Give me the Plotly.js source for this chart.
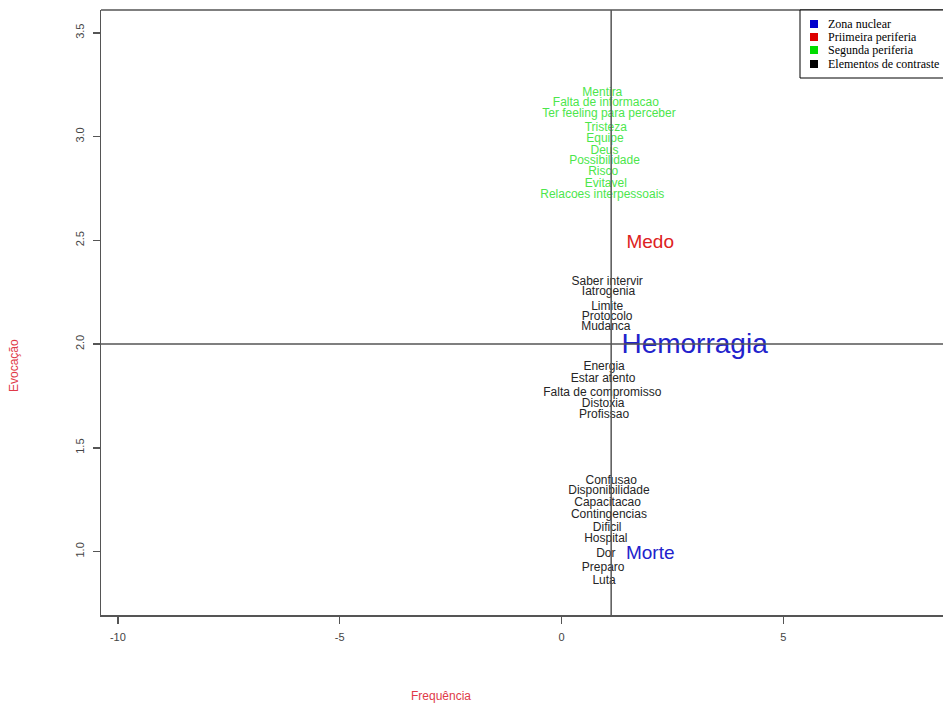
<!DOCTYPE html>
<html>
<head>
<meta charset="utf-8">
<script src="https://cdn.plot.ly/plotly-3.0.1.min.js"></script>
<style>html,body{margin:0;padding:0;background:#fff;overflow:hidden;}#chart{width:943px;height:703px;}</style>
</head>
<body>
<div id="chart"></div>
<script>
// Segunda periferia (green)
var greenLabels = ["Mentira","Falta de informacao","Ter feeling para perceber","Tristeza","Equipe","Deus","Possibilidade","Risco","Evitavel","Relacoes interpessoais"];
var greenFreq = [0.92, 1.00, 1.07, 1.00, 0.98, 0.97, 0.97, 0.94, 1.00, 0.92];
var greenEvoc = [3.21, 3.16, 3.11, 3.04, 2.99, 2.93, 2.88, 2.83, 2.77, 2.72];

// Elementos de contraste (black)
var blackLabels = ["Saber intervir","Iatrogenia","Limite","Protocolo","Mudanca","Energia","Estar atento","Falta de compromisso","Distoxia","Profissao","Confusao","Disponibilidade","Capacitacao","Contingencias","Dificil","Hospital","Dor","Preparo","Luta"];
var blackFreq = [1.03, 1.06, 1.03, 1.03, 1.00, 0.96, 0.94, 0.92, 0.94, 0.96, 1.12, 1.07, 1.04, 1.07, 1.03, 1.00, 1.00, 0.94, 0.96];
var blackEvoc = [2.30, 2.25, 2.18, 2.13, 2.08, 1.89, 1.83, 1.765, 1.71, 1.66, 1.34, 1.29, 1.235, 1.175, 1.115, 1.06, 0.99, 0.92, 0.86];

// Primeira periferia (red)
var redLabels = ["Medo"];
var redFreq = [2.0];
var redEvoc = [2.485];

// Zona nuclear (blue)
var blueLabels = ["Hemorragia", "Morte"];
var blueFreq = [3.0, 2.0];
var blueEvoc = [1.99, 0.985];
var blueSizes = [28, 19];

// Cut lines
var meanFreq = 1.12;
var meanEvoc = 2.0;

var legendNames = ["Zona nuclear", "Priimeira periferia", "Segunda periferia", "Elementos de contraste"];
var legendColors = ["#0000cc", "#dd0000", "#00dd00", "#000000"];

var xTicks = [-10, -5, 0, 5];
var yTicks = [1.0, 1.5, 2.0, 2.5, 3.0, 3.5];

var sans = "Arial, 'Liberation Sans', sans-serif";
var serif = "'Liberation Serif', 'Times New Roman', serif";

var traces = [
  {type:"scatter", mode:"text", x:greenFreq, y:greenEvoc, text:greenLabels, textposition:"middle center",
   textfont:{family:sans, size:12, color:"#4ce64c"}, showlegend:false, hoverinfo:"text"},
  {type:"scatter", mode:"text", x:blackFreq, y:blackEvoc, text:blackLabels, textposition:"middle center",
   textfont:{family:sans, size:12, color:"#252525"}, showlegend:false, hoverinfo:"text"},
  {type:"scatter", mode:"text", x:redFreq, y:redEvoc, text:redLabels, textposition:"middle center",
   textfont:{family:sans, size:19, color:"#dd2222"}, showlegend:false, hoverinfo:"text"},
  {type:"scatter", mode:"text", x:blueFreq, y:blueEvoc, text:blueLabels, textposition:"middle center",
   textfont:{family:sans, size:blueSizes, color:"#2222cc"}, showlegend:false, hoverinfo:"text"}
];

// plot area in pixels: x 101..943, y 10..615
var PL = 101, PW = 842, PT = 10, PH = 605;
function px(x){ return (x - PL) / PW; }
function py(y){ return (PT + PH - y) / PH; }

var shapes = [
  {type:"line", xref:"paper", yref:"paper", x0:0, x1:1, y0:1, y1:1, line:{color:"#555555", width:1.5}},
  {type:"line", xref:"x", yref:"paper", x0:meanFreq, x1:meanFreq, y0:0, y1:1, line:{color:"#555555", width:1.5}},
  {type:"line", xref:"paper", yref:"y", x0:0, x1:1, y0:meanEvoc, y1:meanEvoc, line:{color:"#555555", width:1.5}},
  {type:"rect", xref:"paper", yref:"paper", x0:px(800), x1:px(947), y0:py(78), y1:py(10),
   fillcolor:"#ffffff", line:{color:"#000000", width:1}}
];
var annotations = [
  {text:"Frequência", xref:"paper", yref:"paper", x:px(441), y:py(696), xanchor:"center", yanchor:"middle",
   showarrow:false, font:{family:sans, size:12, color:"#e03a48"}},
  {text:"Evocação", xref:"paper", yref:"paper", x:px(14), y:py(366), xanchor:"center", yanchor:"middle",
   textangle:-90, showarrow:false, font:{family:sans, size:12, color:"#e03a48"}}
];
var rowY = [24, 37, 50, 64];
for (var i = 0; i < legendNames.length; i++) {
  shapes.push({type:"rect", xref:"paper", yref:"paper", x0:px(810), x1:px(818), y0:py(rowY[i]+4), y1:py(rowY[i]-4),
    fillcolor:legendColors[i], line:{width:0}});
  annotations.push({text:legendNames[i], xref:"paper", yref:"paper", x:px(826), y:py(rowY[i]), xanchor:"left", yanchor:"middle",
    showarrow:false, font:{family:serif, size:12, color:"#000000"}});
}

var layout = {
  width:943, height:703,
  margin:{l:101, r:0, t:10, b:88, pad:0},
  paper_bgcolor:"#ffffff", plot_bgcolor:"#ffffff",
  showlegend:false,
  xaxis:{range:[-10.38, 8.60], tickvals:xTicks, ticktext:xTicks.map(String), showgrid:false, zeroline:false,
    showline:true, linecolor:"#555555", linewidth:1.5, ticks:"outside", ticklen:7, tickcolor:"#555555", tickwidth:1.5,
    ticklabelstandoff:4, tickfont:{family:sans, size:11, color:"#444444"}, fixedrange:true},
  yaxis:{range:[0.694, 3.61], tickvals:yTicks, ticktext:yTicks.map(function(v){return v.toFixed(1);}), showgrid:false, zeroline:false,
    showline:true, linecolor:"#555555", linewidth:1.5, ticks:"outside", ticklen:7, tickcolor:"#555555", tickwidth:1.5,
    ticklabelstandoff:4, tickangle:-90, tickfont:{family:sans, size:11, color:"#444444"}, fixedrange:true},
  shapes:shapes,
  annotations:annotations
};

Plotly.newPlot("chart", traces, layout, {displayModeBar:false, staticPlot:true});
</script>
</body>
</html>
